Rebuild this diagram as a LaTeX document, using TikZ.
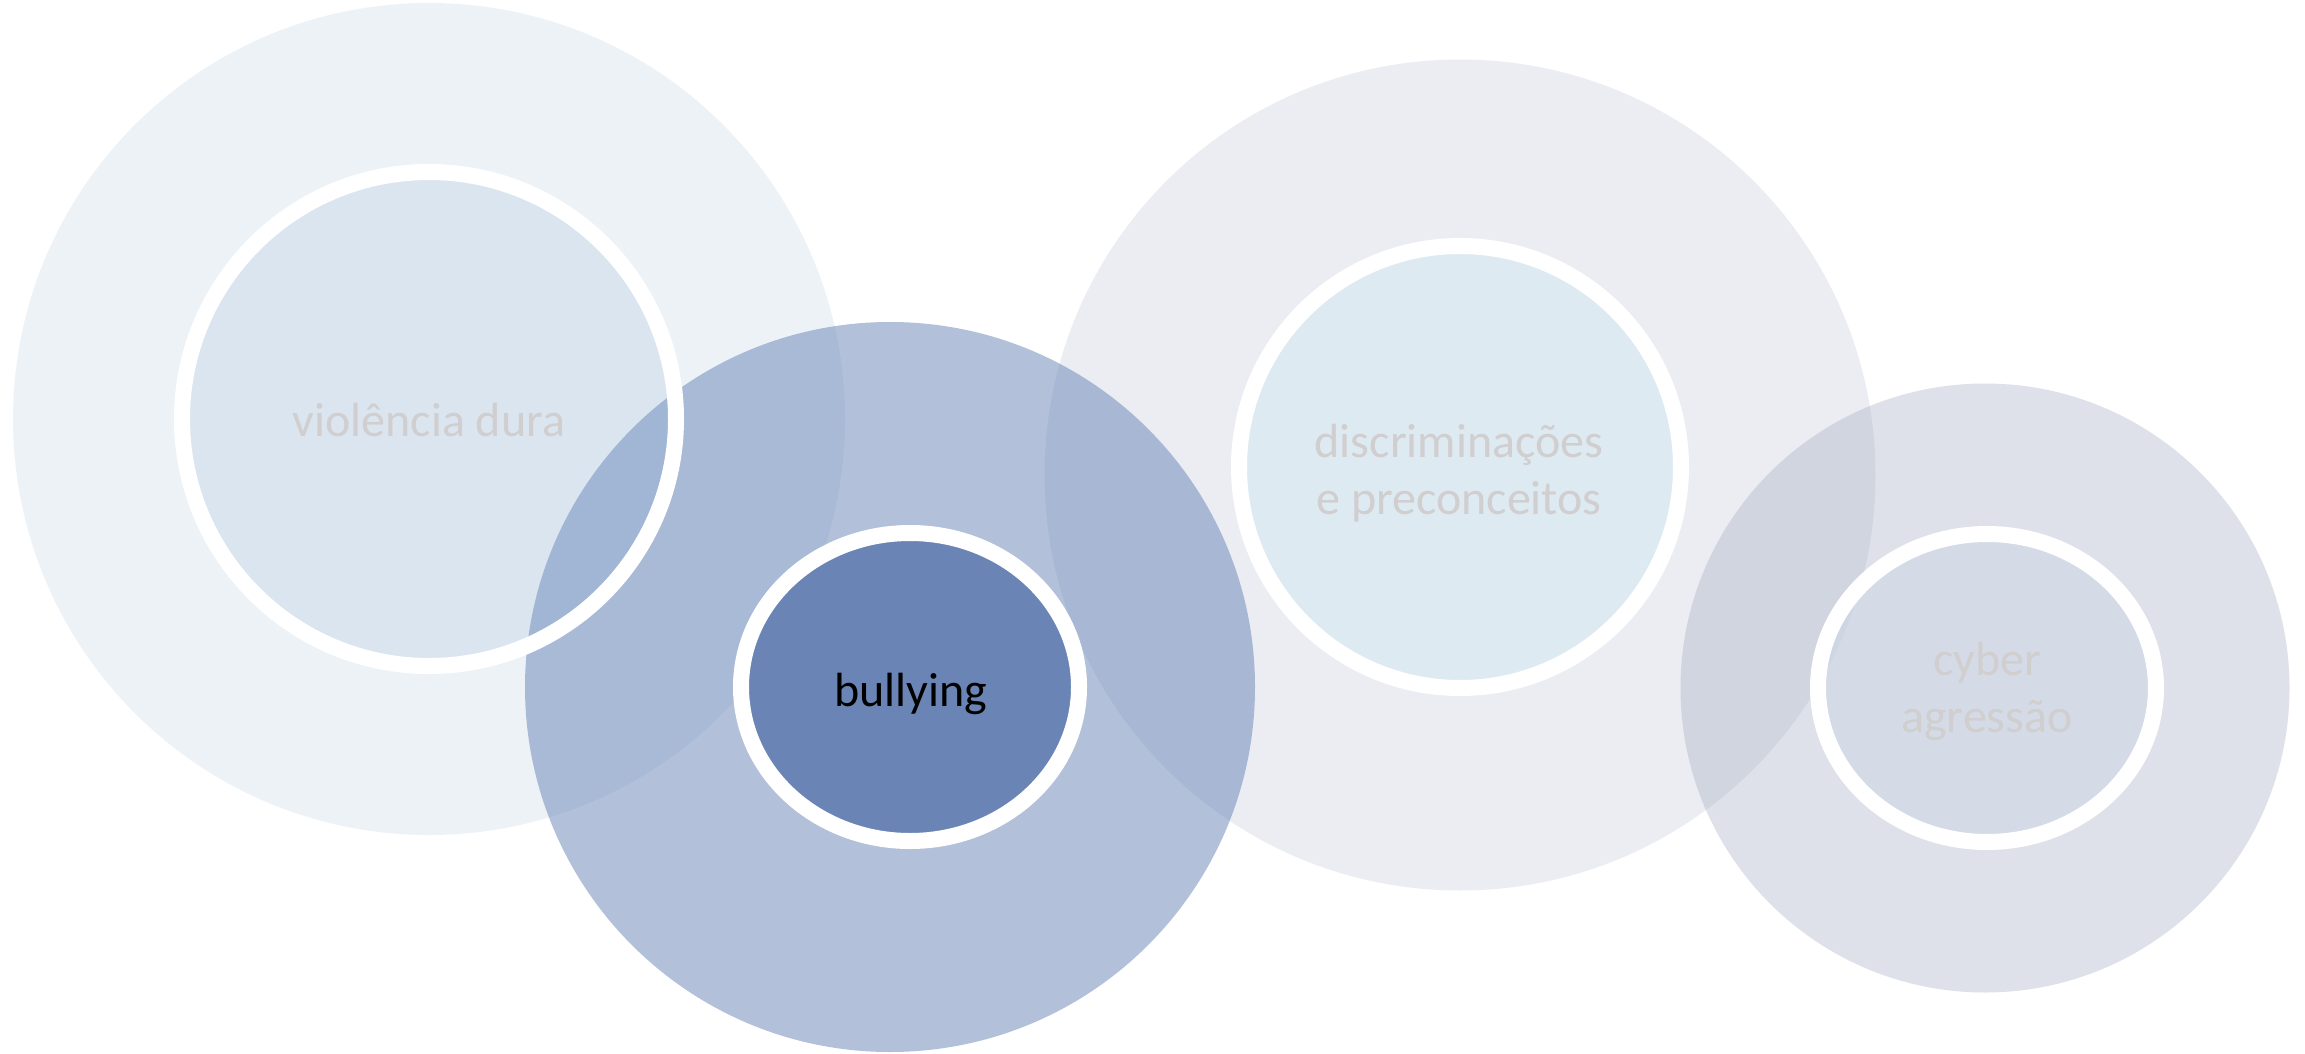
\documentclass[tikz,border=0pt]{standalone}
\usepackage{fontspec}
\setmainfont{Carlito}
\usetikzlibrary{shapes.geometric}
\definecolor{cA}{RGB}{221,231,241}
\definecolor{cB}{RGB}{103,131,183}
\definecolor{cC}{RGB}{217,221,231}
\definecolor{cD}{RGB}{148,158,185}
\definecolor{iA}{RGB}{118,156,201}
\definecolor{iB}{RGB}{99,127,178}
\definecolor{iC}{RGB}{210,232,243}
\definecolor{iD}{RGB}{205,215,230}
\definecolor{txtgray}{RGB}{208,206,206}
\tikzset{
  big/.style={circle, inner sep=0pt, draw=none, minimum size=#1},
  ring/.style={draw=white, line width=16pt, inner sep=0pt},
  lbl/.style={inner sep=0pt, font=\fontsize{48}{57}\selectfont, text=txtgray},
}
\begin{document}
\begin{tikzpicture}[x=1pt,y=-1pt]
\useasboundingbox[fill=white] (0,0) rectangle (2305,1054);
% outer circles
\node[big=832pt, fill=cA, fill opacity=0.5] (o1) at (429,419) {};
\node[big=831pt, fill=cC, fill opacity=0.5] (o3) at (1460,475) {};
\node[big=609pt, fill=cD, fill opacity=0.3] (o4) at (1985,688) {};
\node[big=730pt, fill=cB, fill opacity=0.5] (o2) at (890,687) {};
% inner shapes
\node[ring, circle, minimum size=494pt, fill=iA, fill opacity=0.15, draw opacity=1] (i1) at (429,419) {};
\node[ring, ellipse, minimum width=338pt, minimum height=308pt, fill=iB, fill opacity=0.9, draw opacity=1] (i2) at (910,687) {};
\node[ring, circle, minimum size=442pt, fill=iC, fill opacity=0.5, draw opacity=1] (i3) at (1460,467) {};
\node[ring, ellipse, minimum width=338pt, minimum height=308pt, fill=iD, fill opacity=0.55, draw opacity=1] (i4) at (1987,688) {};
% labels
\node[lbl, anchor=base] (t1) at (429,436) {violência dura};
\node[lbl, anchor=base, text=black] (t2) at (911,706) {bullying};
\node[lbl, anchor=base] (t3) at (1459,457) {\begin{tabular}[t]{@{}c@{}}discriminações\\e preconceitos\end{tabular}};
\node[lbl, anchor=base] (t4) at (1987,675) {\begin{tabular}[t]{@{}c@{}}cyber\\agressão\end{tabular}};
\end{tikzpicture}
\end{document}
